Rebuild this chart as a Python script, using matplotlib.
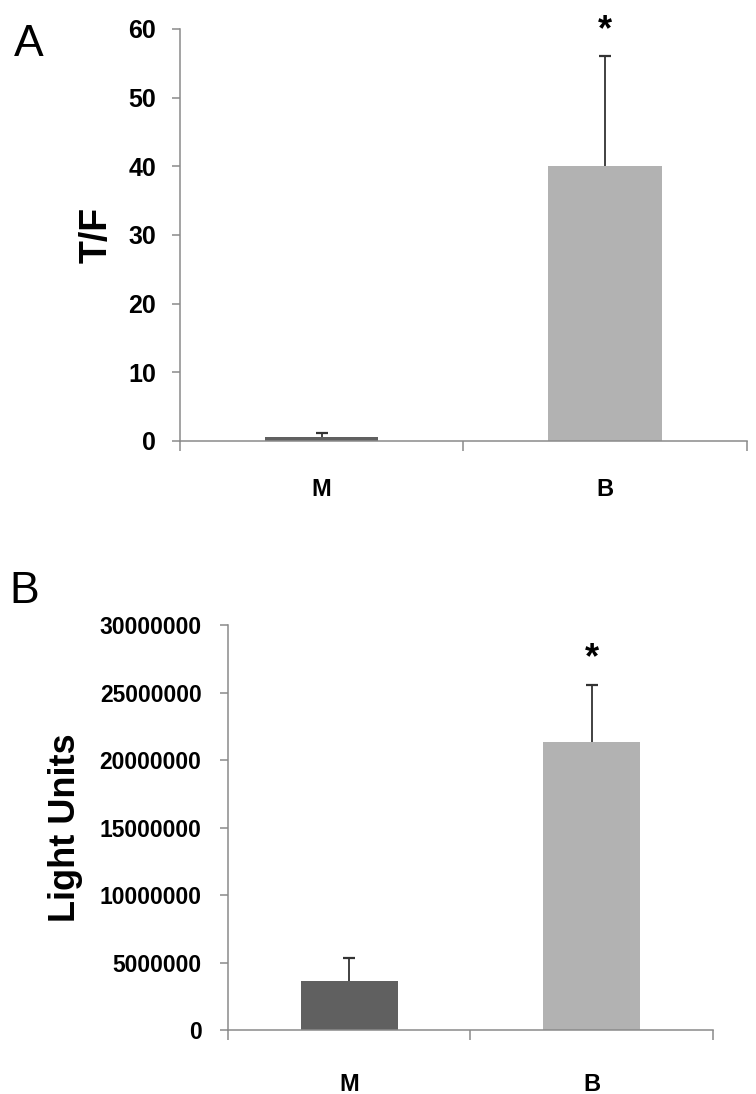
"""
Two-panel bar figure: T/F ratio (A) and light units (B) for groups M and B.
"""

import matplotlib as mpl
import matplotlib.pyplot as plt

# --- Data ---
CATEGORIES = ['M', 'B']

TF_MEAN = [0.6, 40.0]
TF_ERR  = [0.6, 16.1]

LIGHT_MEAN = [3650000, 21300000]
LIGHT_ERR  = [1700000, 4250000]

STAR_A = 59.8        # asterisk height over B bar, panel A (data units)
STAR_B = 27500000    # asterisk height over B bar, panel B

# --- Style ---
BAR_COLORS = ['#606060', '#b2b2b2']
AXIS_GRAY  = '#8a8a8a'
ERR_COLOR  = '#333333'
FONT       = 'Liberation Sans'

mpl.rcParams['font.family'] = [FONT, 'DejaVu Sans']


def style_axes(ax, tick_size, pad, xpad):
    for side in ('top', 'right'):
        ax.spines[side].set_visible(False)
    for side in ('left', 'bottom'):
        ax.spines[side].set_color(AXIS_GRAY)
        ax.spines[side].set_linewidth(1.1)

    ax.set_xlim(-0.5, 1.5)
    # major x ticks at category boundaries, labels at centres
    ax.set_xticks([-0.5, 0.5, 1.5])
    ax.set_xticklabels(['', '', ''])
    ax.set_xticks([0, 1], minor=True)
    ax.set_xticklabels(CATEGORIES, minor=True, fontsize=17,
                       fontweight='bold')
    ax.tick_params(axis='x', which='major', direction='out', length=7,
                   width=1.1, color=AXIS_GRAY)
    ax.tick_params(axis='x', which='minor', length=0, pad=xpad)
    ax.tick_params(axis='y', direction='out', length=6, width=1.1,
                   color=AXIS_GRAY, labelsize=tick_size, pad=pad)
    for lbl in ax.get_yticklabels():
        lbl.set_fontweight('bold')


def draw_bars(ax, means, errs):
    x = list(range(len(means)))
    tops = [m + e for m, e in zip(means, errs)]
    ax.bar(x, means, width=0.4, color=BAR_COLORS, zorder=2)
    # upper-only error bars: stem plus a cap at the top
    ax.vlines(x, means, tops, color=ERR_COLOR, lw=1.3, zorder=3)
    ax.plot(x, tops, ls='none', marker='_', ms=9, mew=1.6,
            color=ERR_COLOR, zorder=3)


fig = plt.figure(figsize=(7.56, 10.94), dpi=100)

# --- Panel A ---
axA = fig.add_axes([0.238, 0.597, 0.750, 0.3766])
draw_bars(axA, TF_MEAN, TF_ERR)
axA.set_ylim(0, 60)
axA.set_yticks(range(0, 61, 10))
style_axes(axA, tick_size=18, pad=11, xpad=27)
axA.set_ylabel('T/F', fontsize=27, fontweight='bold', labelpad=10)
axA.text(1, STAR_A, '*', ha='center', va='center', fontsize=26,
         fontweight='bold', clip_on=False)
fig.text(0.018, 0.978, 'A', fontsize=32, va='top', ha='left')

# --- Panel B ---
axB = fig.add_axes([0.3016, 0.0585, 0.6415, 0.3702])
draw_bars(axB, LIGHT_MEAN, LIGHT_ERR)
axB.set_ylim(0, 30000000)
axB.set_yticks(range(0, 30000001, 5000000))
axB.yaxis.set_major_formatter(mpl.ticker.FuncFormatter(lambda v, _: f'{v:.0f}'))
style_axes(axB, tick_size=16.5, pad=13, xpad=31)
axB.set_ylabel('Light Units', fontsize=26, fontweight='bold', labelpad=12)
axB.text(1, STAR_B, '*', ha='center', va='center', fontsize=26,
         fontweight='bold', clip_on=False)
fig.text(0.012, 0.478, 'B', fontsize=32, va='top', ha='left')

fig.savefig('out.png', dpi=100)
